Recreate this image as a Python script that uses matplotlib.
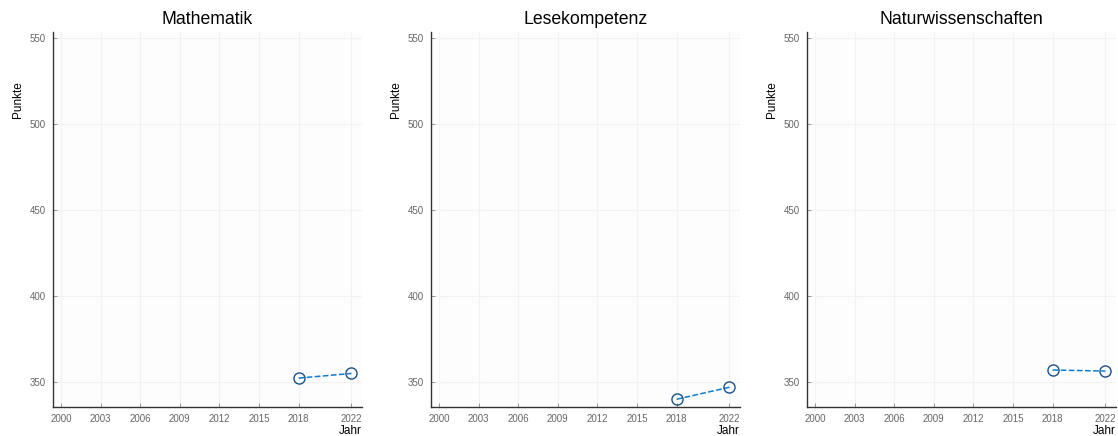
import matplotlib
matplotlib.use("Agg")
import matplotlib.pyplot as plt

# PISA scores per subject
subjects = ["Mathematik", "Lesekompetenz", "Naturwissenschaften"]
years = [2018, 2022]
math_scores = [352.3, 355.0]
read_scores = [340.0, 347.0]
sci_scores = [357.0, 356.4]
all_scores = [math_scores, read_scores, sci_scores]

xticks = [2000, 2003, 2006, 2009, 2012, 2015, 2018, 2022]
yticks = [350, 400, 450, 500, 550]

plt.rcParams['font.family'] = ['Liberation Sans', 'DejaVu Sans']

fig = plt.figure(figsize=(11.18, 4.36), dpi=100)
lefts = [53, 431, 807]
for i in range(3):
    ax = fig.add_axes([lefts[i] / 1118, 29 / 436, 309 / 1118, 375 / 436])
    ax.set_facecolor("#fdfdfd")
    ax.plot(years, all_scores[i], linestyle="--", color="#0a7dd0", linewidth=1.1,
            marker="o", markersize=8, markerfacecolor="none",
            markeredgecolor="#1b4f8a", markeredgewidth=1.0)
    ax.set_xlim(1999.4, 2022.8)
    ax.set_ylim(335.5, 553.5)
    ax.set_xticks(xticks)
    ax.set_yticks(yticks)
    ax.grid(True, color="#f2f2f2", linewidth=0.8)
    ax.set_axisbelow(True)
    for s in ["top", "right"]:
        ax.spines[s].set_visible(False)
    for s in ["left", "bottom"]:
        ax.spines[s].set_color("#333333")
        ax.spines[s].set_linewidth(1.0)
    ax.tick_params(direction="in", length=3, width=0.6, color="#888888",
                   labelsize=7, labelcolor="#666666", pad=5)
    ax.set_title(subjects[i], fontsize=12.7, pad=6)
    ax.set_ylabel("Punkte", fontsize=8.5)
    ax.yaxis.set_label_coords(-0.095, 0.82)
    ax.set_xlabel("Jahr", fontsize=8.5, loc="right", labelpad=1)

fig.savefig("out.png", dpi=100)
